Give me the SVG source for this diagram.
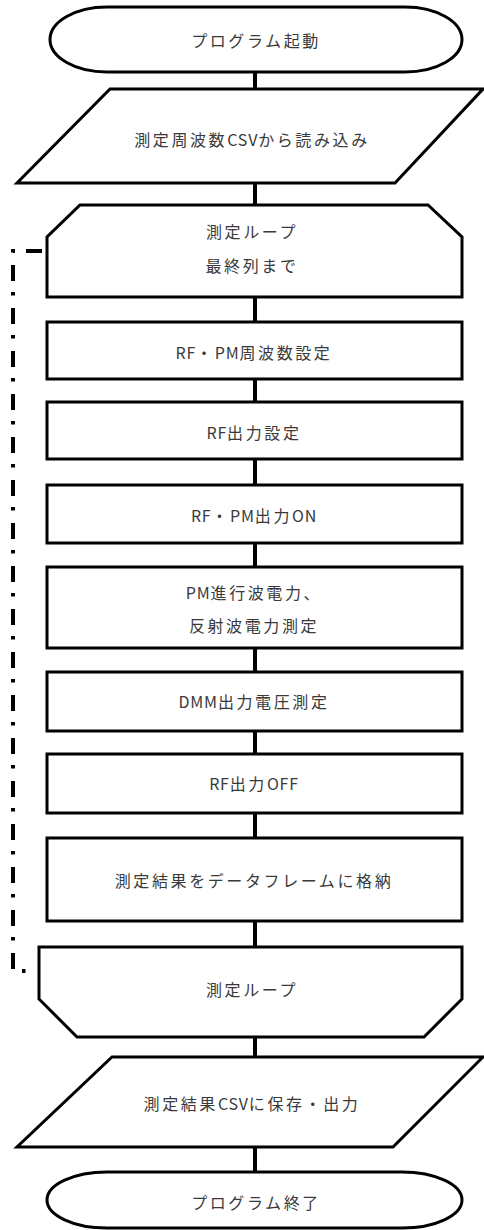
<svg xmlns="http://www.w3.org/2000/svg" width="484" height="1230" viewBox="0 0 484 1230">
<style>
.s{fill:#fff;stroke:#000;stroke-width:3;stroke-linejoin:miter}
.t{font-family:"Noto Sans CJK JP","Noto Sans",sans-serif;font-size:16px;fill:#3a3a3a;text-anchor:middle;dominant-baseline:central;letter-spacing:2.6px}
.l{letter-spacing:0.8px}
.c{stroke:#000;stroke-width:4;fill:none}
.lp{stroke:#000;stroke-width:4;fill:none;stroke-dasharray:16 11 3.5 12.5;stroke-dashoffset:38}
</style>
<rect width="484" height="1230" fill="#fff"/>
<g id="connectors">
<line class="c" x1="255" y1="72" x2="255" y2="89"/>
<line class="c" x1="255" y1="183" x2="255" y2="205"/>
<line class="c" x1="255" y1="297" x2="255" y2="322"/>
<line class="c" x1="255" y1="379" x2="255" y2="402"/>
<line class="c" x1="255" y1="459" x2="255" y2="485"/>
<line class="c" x1="255" y1="543" x2="255" y2="567"/>
<line class="c" x1="255" y1="648" x2="255" y2="672"/>
<line class="c" x1="255" y1="731" x2="255" y2="754"/>
<line class="c" x1="255" y1="813" x2="255" y2="838"/>
<line class="c" x1="255" y1="921" x2="255" y2="947"/>
<line class="c" x1="255" y1="1037" x2="255" y2="1057"/>
<line class="c" x1="255" y1="1147" x2="255" y2="1172"/>
<path class="lp" d="M47 251 H13 V971 H39"/>
</g>
<g id="start">
<rect class="s" x="50" y="7" width="412" height="65" rx="57" ry="32.5"/>
<text class="t" x="256" y="40">プログラム起動</text>
</g>
<g id="read-csv">
<polygon class="s" points="110,89 483,89 395,183 17,183"/>
<text class="t" x="252" y="139">測定周波数<tspan class="l">CSV</tspan>から読み込み</text>
</g>
<g id="loop-start">
<polygon class="s" points="80,205 428,205 462,237 462,297 47,297 47,237"/>
<text class="t" x="252" y="231">測定ループ</text>
<text class="t" x="252" y="265">最終列まで</text>
</g>
<g id="freq-set">
<rect class="s" x="47" y="322" width="415" height="57"/>
<text class="t" x="254" y="352"><tspan class="l">RF</tspan>・<tspan class="l">PM</tspan>周波数設定</text>
</g>
<g id="rf-out-set">
<rect class="s" x="47" y="402" width="415" height="57"/>
<text class="t" x="254" y="432"><tspan class="l">RF</tspan>出力設定</text>
</g>
<g id="out-on">
<rect class="s" x="47" y="485" width="415" height="58"/>
<text class="t" x="254" y="515"><tspan class="l">RF</tspan>・<tspan class="l">PM</tspan>出力<tspan class="l">ON</tspan></text>
</g>
<g id="pm-measure">
<rect class="s" x="47" y="567" width="415" height="81"/>
<text class="t" x="254" y="592"><tspan class="l">PM</tspan>進行波電力、</text>
<text class="t" x="254" y="625">反射波電力測定</text>
</g>
<g id="dmm">
<rect class="s" x="47" y="672" width="415" height="59"/>
<text class="t" x="254" y="701"><tspan class="l">DMM</tspan>出力電圧測定</text>
</g>
<g id="rf-off">
<rect class="s" x="47" y="754" width="415" height="59"/>
<text class="t" x="254" y="783"><tspan class="l">RF</tspan>出力<tspan class="l">OFF</tspan></text>
</g>
<g id="store">
<rect class="s" x="47" y="838" width="415" height="83"/>
<text class="t" x="254" y="880">測定結果をデータフレームに格納</text>
</g>
<g id="loop-end">
<polygon class="s" points="39,947 462,947 462,999 424,1037 77,1037 39,999"/>
<text class="t" x="252" y="989">測定ループ</text>
</g>
<g id="save-csv">
<polygon class="s" points="112,1057 483,1057 393,1147 17,1147"/>
<text class="t" x="252" y="1103">測定結果<tspan class="l">CSV</tspan>に保存・出力</text>
</g>
<g id="end">
<rect class="s" x="47" y="1172" width="415" height="56" rx="60" ry="28"/>
<text class="t" x="256" y="1202">プログラム終了</text>
</g>
</svg>
